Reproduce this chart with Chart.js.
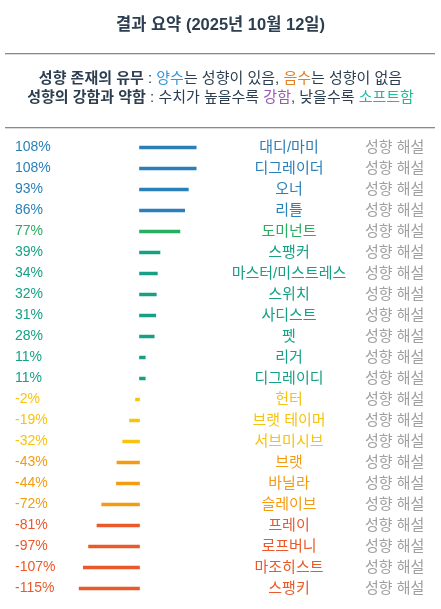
<!DOCTYPE html>
<html><head><meta charset="utf-8">
<script src="https://cdn.jsdelivr.net/npm/chart.js@4"></script>
<style>
html,body{margin:0;padding:0;background:#fff;}
body{width:441px;height:609px;position:relative;overflow:hidden;font-family:'Liberation Sans',Arial,'Noto Sans CJK KR',sans-serif;}
#c{position:absolute;left:0;top:0;}
.title{position:absolute;left:0;width:441px;top:14px;height:21px;line-height:21px;text-align:center;font-size:16.5px;font-weight:bold;color:#2c3e50;z-index:2;}
.hr{position:absolute;left:5px;width:430px;height:0;border-top:1px solid #8a8a8a;border-bottom:1px solid #dadada;z-index:2;}
.leg{position:absolute;left:0;width:441px;text-align:center;font-size:15px;line-height:19px;height:19px;color:#2c3e50;white-space:nowrap;z-index:2;}
.leg b{font-weight:bold;}
</style></head>
<body>
<div class="title">결과 요약 (2025년 10월 12일)</div>
<div class="hr" style="top:53px"></div>
<div class="leg" style="top:68px"><b>성향 존재의 유무</b> : <span style="color:#3498db">양수</span>는 성향이 있음, <span style="color:#e67e22">음수</span>는 성향이 없음</div>
<div class="leg" style="top:87px"><b>성향의 강함과 약함</b> : 수치가 높을수록 <span style="color:#9b59b6">강함</span>, 낮을수록 <span style="color:#1abc9c">소프트함</span></div>
<div class="hr" style="top:127px"></div>
<canvas id="c" width="441" height="609"></canvas>
<script>
const names = ['대디/마미','디그레이더','오너','리틀','도미넌트','스팽커','마스터/미스트레스','스위치','사디스트','펫','리거','디그레이디','헌터','브랫 테이머','서브미시브','브랫','바닐라','슬레이브','프레이','로프버니','마조히스트','스팽키'];
const values = [108,108,93,86,77,39,34,32,31,28,11,11,-2,-19,-32,-43,-44,-72,-81,-97,-107,-115];
const pctLabels = values.map(v => v + '%');
const noteLabels = names.map(() => '성향 해설');

function tierColor(v){
  if (v >= 80) return '#2980b9';
  if (v >= 50) return '#27ae60';
  if (v >= 0) return '#16a085';
  if (v > -40) return '#f7c30f';
  if (v > -80) return '#f39c12';
  return '#e9592a';
}
const colors = values.map(tierColor);

const PX = 0.525;      // pixels per percent
const ZERO_X = 139.5;  // pixel position of zero
const LEFT_EDGE = 60;  // chart area left

const FONT = "'Liberation Sans', Arial, 'Noto Sans CJK KR', sans-serif";
const noGrid = {display:false, drawTicks:false, tickLength:0};

new Chart(document.getElementById('c'), {
  type: 'bar',
  data: {
    labels: names,
    datasets: [{
      data: values,
      backgroundColor: colors,
      borderWidth: 0,
      barThickness: 3,
      minBarLength: 4,
      xAxisID: 'x',
      yAxisID: 'y'
    }]
  },
  options: {
    indexAxis: 'y',
    responsive: false,
    devicePixelRatio: 1,
    animation: false,
    layout: {padding: {left: 15, top: 137, right: 0, bottom: 10}},
    plugins: {legend: {display: false}, tooltip: {enabled: false}},
    scales: {
      x: {
        type: 'linear',
        display: false,
        bounds: 'data',
        afterBuildTicks(s) {
          s.min = -(ZERO_X - LEFT_EDGE) / PX;
          s.max = s.min + s.width / PX;
        }
      },
      yPct: {
        type: 'category',
        position: 'left',
        axis: 'y',
        labels: pctLabels,
        offset: true,
        grid: noGrid,
        border: {display: false},
        ticks: {
          autoSkip: false, padding: 0, crossAlign: 'far',
          font: {family: FONT, size: 14},
          color: (ctx) => colors[ctx.index]
        },
        afterFit(s) { s.width = LEFT_EDGE - 15; }
      },
      y: {
        type: 'category',
        position: 'right',
        offset: true,
        grid: noGrid,
        border: {display: false},
        ticks: {
          autoSkip: false, padding: 0, crossAlign: 'center',
          font: {family: FONT, size: 15},
          color: (ctx) => colors[ctx.index]
        },
        afterFit(s) {
          let w = 115;
          try { w = s._getLabelSizes().widest.width; } catch (e) {}
          s.width = 76 + w / 2;
        }
      },
      yNote: {
        type: 'category',
        position: 'right',
        axis: 'y',
        labels: noteLabels,
        offset: true,
        grid: noGrid,
        border: {display: false},
        ticks: {
          autoSkip: false, padding: 0, crossAlign: 'near',
          font: {family: FONT, size: 15},
          color: '#a0a0a0'
        },
        afterFit(s) { s.width = 76; }
      }
    }
  }
});
</script>
</body></html>
